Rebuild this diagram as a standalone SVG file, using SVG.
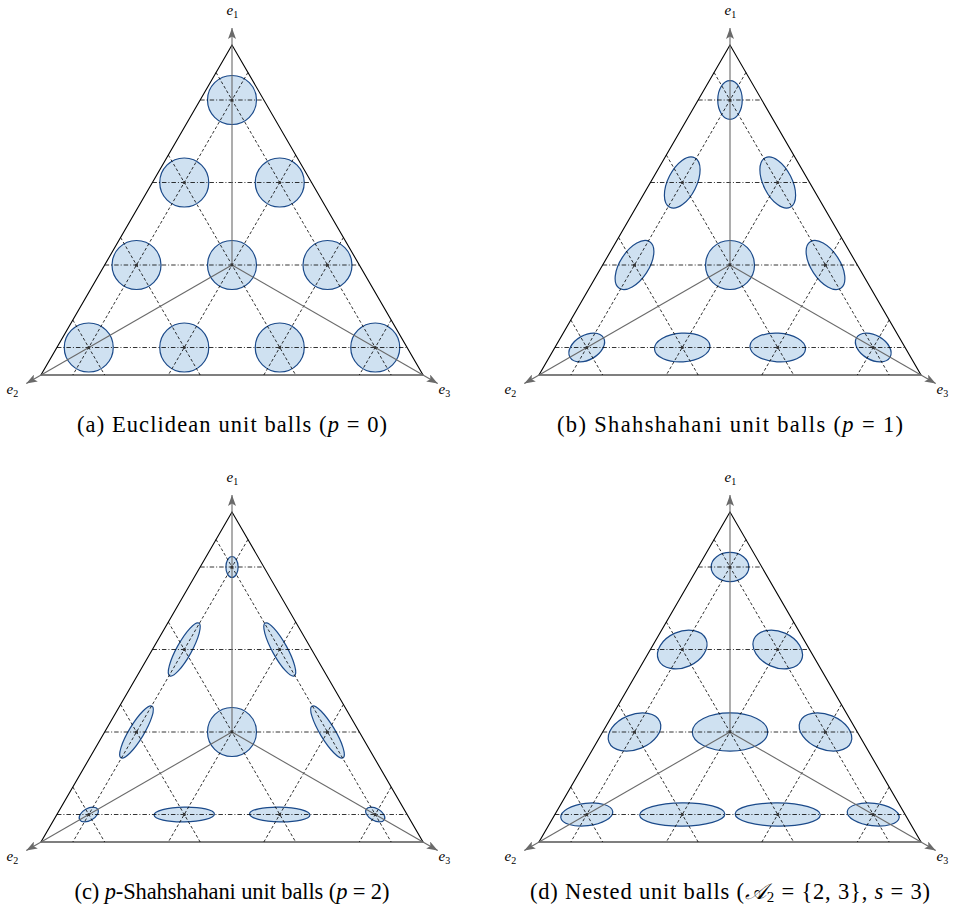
<svg xmlns="http://www.w3.org/2000/svg" xmlns:xlink="http://www.w3.org/1999/xlink" width="961" height="911" viewBox="0 0 961 911">
<style>
.bg{fill:#fff}
.tri{fill:none;stroke:#000;stroke-width:1.1}
.hl{stroke:#000;stroke-width:0.8;stroke-dasharray:4.5 2 1 2;fill:none}
.dl{stroke:#000;stroke-width:0.8;stroke-dasharray:3 2.2;fill:none}
.ax{stroke:#6a6a6a;stroke-width:1.1;fill:none;marker-end:url(#arr)}
.ball{fill:#cfe1f1;stroke:#1b4a8a;stroke-width:1.2}
.dot{fill:#333}
.lbl{font-family:"Liberation Serif","DejaVu Serif",serif;font-style:italic;font-size:15px;fill:#000}
.sub{font-style:normal;font-size:10px}
.cap{font-family:"Liberation Serif","DejaVu Serif",serif;font-size:22.5px;fill:#000}
.m{font-style:italic}
</style>
<defs>
<marker id="arr" viewBox="0 0 11 8" refX="11" refY="4" markerWidth="11" markerHeight="8" markerUnits="userSpaceOnUse" orient="auto">
<path d="M0,0 L11,4 L0,8 L2.5,4 Z" fill="#6a6a6a"/>
</marker>
<g id="frame">
<g id="grid">
<line class="hl" x1="56.92" y1="347.5" x2="407.08" y2="347.5"/>
<line class="hl" x1="104.67" y1="265" x2="359.33" y2="265"/>
<line class="hl" x1="152.42" y1="182.5" x2="311.58" y2="182.5"/>
<line class="hl" x1="200.17" y1="100" x2="263.83" y2="100"/>
<line class="dl" x1="216.08" y1="72.5" x2="391.17" y2="375"/>
<line class="dl" x1="168.33" y1="155" x2="295.67" y2="375"/>
<line class="dl" x1="120.58" y1="237.5" x2="200.17" y2="375"/>
<line class="dl" x1="72.83" y1="320" x2="104.67" y2="375"/>
<line class="dl" x1="247.92" y1="72.5" x2="72.83" y2="375"/>
<line class="dl" x1="295.67" y1="155" x2="168.33" y2="375"/>
<line class="dl" x1="343.42" y1="237.5" x2="263.83" y2="375"/>
<line class="dl" x1="391.17" y1="320" x2="359.33" y2="375"/>
</g>
<polygon class="tri" points="232,45 41,375 423,375"/>
<g id="axes">
<line class="ax" x1="232" y1="265" x2="232" y2="28"/>
<line class="ax" x1="232" y1="265" x2="26.3" y2="383.5"/>
<line class="ax" x1="232" y1="265" x2="437.7" y2="383.5"/>
</g>
<g id="dots">
<circle class="dot" cx="232" cy="100" r="1.6"/>
<circle class="dot" cx="184.25" cy="182.5" r="1.6"/>
<circle class="dot" cx="279.75" cy="182.5" r="1.6"/>
<circle class="dot" cx="136.5" cy="265" r="1.6"/>
<circle class="dot" cx="232" cy="265" r="1.6"/>
<circle class="dot" cx="327.5" cy="265" r="1.6"/>
<circle class="dot" cx="88.75" cy="347.5" r="1.6"/>
<circle class="dot" cx="184.25" cy="347.5" r="1.6"/>
<circle class="dot" cx="279.75" cy="347.5" r="1.6"/>
<circle class="dot" cx="375.25" cy="347.5" r="1.6"/>
</g>
<text class="lbl" x="226.5" y="15">e<tspan class="sub" dy="3">1</tspan></text>
<text class="lbl" x="6.5" y="394">e<tspan class="sub" dy="3">2</tspan></text>
<text class="lbl" x="438.5" y="394">e<tspan class="sub" dy="3">3</tspan></text>
</g>
</defs>
<rect class="bg" x="0" y="0" width="961" height="911"/>

<g id="panel-a">
<g id="a-balls">
<g id="a1"><circle class="ball" cx="232" cy="100" r="24.5"/></g>
<g id="a2"><circle class="ball" cx="184.25" cy="182.5" r="24.5"/></g>
<g id="a3"><circle class="ball" cx="279.75" cy="182.5" r="24.5"/></g>
<g id="a4"><circle class="ball" cx="136.5" cy="265" r="24.5"/></g>
<g id="a5"><circle class="ball" cx="232" cy="265" r="24.5"/></g>
<g id="a6"><circle class="ball" cx="327.5" cy="265" r="24.5"/></g>
<g id="a7"><circle class="ball" cx="88.75" cy="347.5" r="24.5"/></g>
<g id="a8"><circle class="ball" cx="184.25" cy="347.5" r="24.5"/></g>
<g id="a9"><circle class="ball" cx="279.75" cy="347.5" r="24.5"/></g>
<g id="a10"><circle class="ball" cx="375.25" cy="347.5" r="24.5"/></g>
</g>
<use xlink:href="#frame" href="#frame"/>
<text class="cap" x="232" y="432" text-anchor="middle" textLength="310">(a) Euclidean unit balls (<tspan class="m">p</tspan> = 0)</text>
</g>

<g id="panel-b" transform="translate(498 0)">
<g id="b-balls">
<g id="b1"><ellipse class="ball" cx="0" cy="0" rx="12.25" ry="19.37" transform="translate(232 100)"/></g>
<g id="b2"><ellipse class="ball" cx="0" cy="0" rx="27.77" ry="14.30" transform="translate(184.25 182.5) rotate(-63.3)"/></g>
<g id="b3"><ellipse class="ball" cx="0" cy="0" rx="27.77" ry="14.30" transform="translate(279.75 182.5) rotate(63.3)"/></g>
<g id="b4"><ellipse class="ball" cx="0" cy="0" rx="27.77" ry="14.30" transform="translate(136.5 265) rotate(-56.7)"/></g>
<g id="b5"><circle class="ball" cx="232" cy="265" r="24.5"/></g>
<g id="b6"><ellipse class="ball" cx="0" cy="0" rx="27.77" ry="14.30" transform="translate(327.5 265) rotate(56.7)"/></g>
<g id="b7"><ellipse class="ball" cx="0" cy="0" rx="19.37" ry="12.25" transform="translate(88.75 347.5) rotate(-30)"/></g>
<g id="b8"><ellipse class="ball" cx="0" cy="0" rx="27.77" ry="14.30" transform="translate(184.25 347.5) rotate(-3.3)"/></g>
<g id="b9"><ellipse class="ball" cx="0" cy="0" rx="27.77" ry="14.30" transform="translate(279.75 347.5) rotate(3.3)"/></g>
<g id="b10"><ellipse class="ball" cx="0" cy="0" rx="19.37" ry="12.25" transform="translate(375.25 347.5) rotate(30)"/></g>
</g>
<use xlink:href="#frame" href="#frame"/>
<text class="cap" x="232" y="432" text-anchor="middle" textLength="346">(b) Shahshahani unit balls (<tspan class="m">p</tspan> = 1)</text>
</g>

<g id="panel-c" transform="translate(0 467)">
<g id="c-balls">
<g id="c1"><ellipse class="ball" cx="0" cy="0" rx="6.13" ry="10.50" transform="translate(232 100)"/></g>
<g id="c2"><ellipse class="ball" cx="0" cy="0" rx="30.17" ry="7.42" transform="translate(184.25 182.5) rotate(-61.1)"/></g>
<g id="c3"><ellipse class="ball" cx="0" cy="0" rx="30.17" ry="7.42" transform="translate(279.75 182.5) rotate(61.1)"/></g>
<g id="c4"><ellipse class="ball" cx="0" cy="0" rx="30.17" ry="7.42" transform="translate(136.5 265) rotate(-58.9)"/></g>
<g id="c5"><circle class="ball" cx="232" cy="265" r="24.5"/></g>
<g id="c6"><ellipse class="ball" cx="0" cy="0" rx="30.17" ry="7.42" transform="translate(327.5 265) rotate(58.9)"/></g>
<g id="c7"><ellipse class="ball" cx="0" cy="0" rx="10.50" ry="6.13" transform="translate(88.75 347.5) rotate(-30)"/></g>
<g id="c8"><ellipse class="ball" cx="0" cy="0" rx="30.17" ry="7.42" transform="translate(184.25 347.5) rotate(-1.1)"/></g>
<g id="c9"><ellipse class="ball" cx="0" cy="0" rx="30.17" ry="7.42" transform="translate(279.75 347.5) rotate(1.1)"/></g>
<g id="c10"><ellipse class="ball" cx="0" cy="0" rx="10.50" ry="6.13" transform="translate(375.25 347.5) rotate(30)"/></g>
</g>
<use xlink:href="#frame" href="#frame"/>
<text class="cap" x="232" y="432" text-anchor="middle" textLength="315">(c) <tspan class="m">p</tspan>-Shahshahani unit balls (<tspan class="m">p</tspan> = 2)</text>
</g>

<g id="panel-d" transform="translate(498 467)">
<g id="d-balls">
<g id="d1"><ellipse class="ball" cx="0" cy="0" rx="18.86" ry="14.6" transform="translate(232 100)"/></g>
<g id="d2"><ellipse class="ball" cx="0" cy="0" rx="25.92" ry="17.85" transform="translate(184.25 182.5) rotate(-23.8)"/></g>
<g id="d3"><ellipse class="ball" cx="0" cy="0" rx="25.92" ry="17.85" transform="translate(279.75 182.5) rotate(23.8)"/></g>
<g id="d4"><ellipse class="ball" cx="0" cy="0" rx="27.49" ry="17.36" transform="translate(136.5 265) rotate(-22.1)"/></g>
<g id="d5"><ellipse class="ball" cx="0" cy="0" rx="37.72" ry="19.13" transform="translate(232 265)"/></g>
<g id="d6"><ellipse class="ball" cx="0" cy="0" rx="27.49" ry="17.36" transform="translate(327.5 265) rotate(22.1)"/></g>
<g id="d7"><ellipse class="ball" cx="0" cy="0" rx="26.16" ry="11.27" transform="translate(88.75 347.5) rotate(-6.6)"/></g>
<g id="d8"><ellipse class="ball" cx="0" cy="0" rx="42.6" ry="11.58" transform="translate(184.25 347.5) rotate(-0.7)"/></g>
<g id="d9"><ellipse class="ball" cx="0" cy="0" rx="42.6" ry="11.58" transform="translate(279.75 347.5) rotate(0.7)"/></g>
<g id="d10"><ellipse class="ball" cx="0" cy="0" rx="26.16" ry="11.27" transform="translate(375.25 347.5) rotate(6.6)"/></g>
</g>
<use xlink:href="#frame" href="#frame"/>
<text class="cap" x="232" y="432" text-anchor="middle" textLength="400">(d) Nested unit balls (<tspan class="m">𝒜</tspan><tspan font-size="15" dy="3">2</tspan><tspan dy="-3"> = {2, 3}, </tspan><tspan class="m">s</tspan> = 3)</text>
</g>
</svg>
